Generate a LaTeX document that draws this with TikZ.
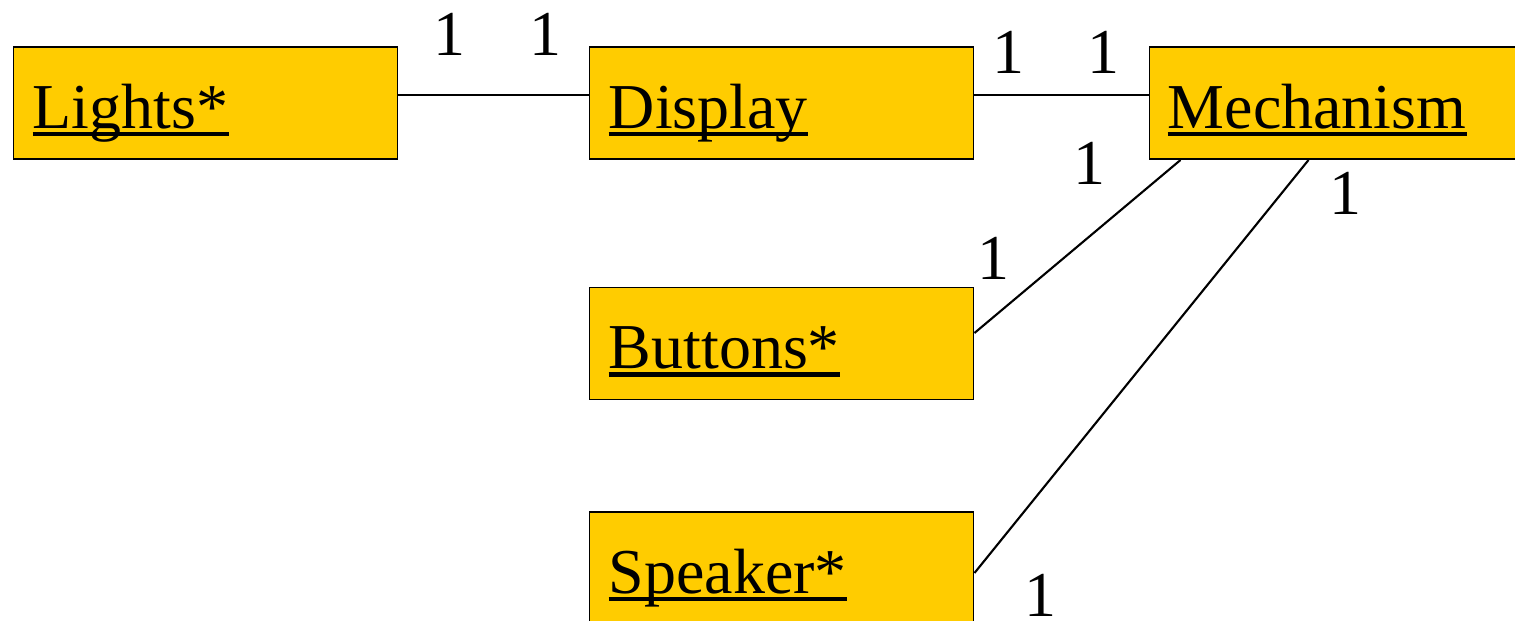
\documentclass[tikz,border=0pt]{standalone}
\usepackage{fontspec}
\setmainfont{Liberation Serif}
\usepackage{tikz}
\definecolor{boxgold}{HTML}{FFCC00}

\begin{document}
\begin{tikzpicture}[every node/.style={font=\fontsize{36.4}{40}\selectfont, inner sep=0pt},
  classbox/.style={rectangle, draw, line width=1.1pt, fill=boxgold, minimum width=7.68cm, minimum height=2.24cm},
  classname/.style={anchor=base west},
  uline/.style={line width=2.6pt},
  link/.style={line width=1.2pt}]

\useasboundingbox (0,0) rectangle (30.3,-12.4);
\clip (0,0) rectangle (30.3,-12.4);

\node[classbox] (lights) at (4.11,-2.06) {};
\node[classbox] (display) at (15.63,-2.06) {};
\node[classbox] (mech) at (26.83,-2.06) {};
\node[classbox] (buttons) at (15.63,-6.87) {};
\node[classbox] (speaker) at (15.63,-11.36) {};

% nomi delle classi
\node[classname] (tlights) at ([xshift=0.4cm,yshift=-0.5cm]lights.west) {Lights*};
\node[classname] (tdisplay) at ([xshift=0.4cm,yshift=-0.5cm]display.west) {Display};
\node[classname] (tmech) at ([xshift=0.38cm,yshift=-0.5cm]mech.west) {Mechanism};
\node[classname] (tbuttons) at ([xshift=0.4cm,yshift=-0.5cm]buttons.west) {Buttons*};
\node[classname] (tspeaker) at ([xshift=0.4cm,yshift=-0.5cm]speaker.west) {Speaker*};

\foreach \t in {tlights,tdisplay,tmech,tbuttons,tspeaker}
  \draw[uline] ([yshift=-0.12cm]\t.base west) -- ([yshift=-0.12cm]\t.base east);

% Archi
\draw[link] ([yshift=0.16cm]lights.east) -- ([yshift=0.16cm]display.west);
\draw[link] ([yshift=0.16cm]display.east) -- ([yshift=0.16cm]mech.west);
\draw[link] ([xshift=0.64cm]mech.south west) -- ([yshift=0.21cm]buttons.east);
\draw[link] ([xshift=3.2cm]mech.south west) -- ([yshift=-0.1cm]speaker.east);

% molteplicita
\node (m1) at (8.98,-0.68) {1};
\node (m2) at (10.9,-0.68) {1};
\node (m3) at (20.16,-1.04) {1};
\node (m4) at (22.06,-1.04) {1};
\node (m5) at (21.78,-3.26) {1};
\node (m6) at (19.86,-5.16) {1};
\node (m7) at (26.9,-3.86) {1};
\node (m8) at (20.8,-11.9) {1};

\end{tikzpicture}
\end{document}
